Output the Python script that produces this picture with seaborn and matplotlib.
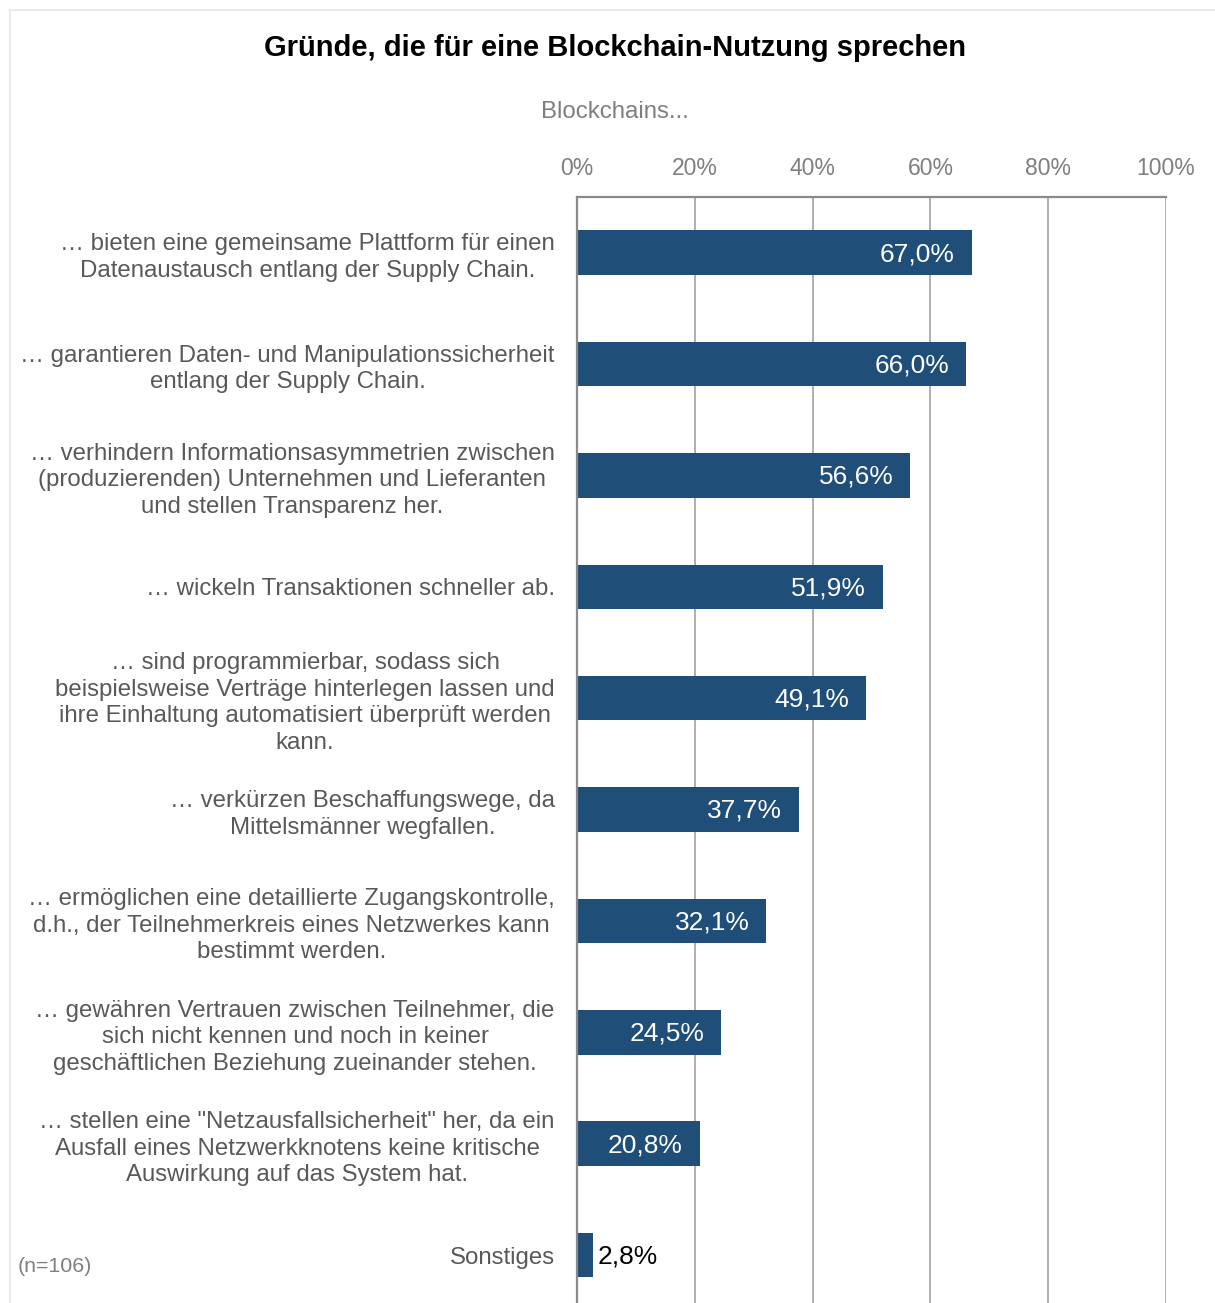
import matplotlib
matplotlib.use("Agg")
import matplotlib.pyplot as plt
import seaborn as sns
import pandas as pd
from matplotlib.lines import Line2D

categories = [
    "… bieten eine gemeinsame Plattform für einen\nDatenaustausch entlang der Supply Chain.",
    "… garantieren Daten- und Manipulationssicherheit\nentlang der Supply Chain.",
    "… verhindern Informationsasymmetrien zwischen\n(produzierenden) Unternehmen und Lieferanten\nund stellen Transparenz her.",
    "… wickeln Transaktionen schneller ab.",
    "… sind programmierbar, sodass sich\nbeispielsweise Verträge hinterlegen lassen und\nihre Einhaltung automatisiert überprüft werden\nkann.",
    "… verkürzen Beschaffungswege, da\nMittelsmänner wegfallen.",
    "… ermöglichen eine detaillierte Zugangskontrolle,\nd.h., der Teilnehmerkreis eines Netzwerkes kann\nbestimmt werden.",
    "… gewähren Vertrauen zwischen Teilnehmer, die\nsich nicht kennen und noch in keiner\ngeschäftlichen Beziehung zueinander stehen.",
    "… stellen eine \"Netzausfallsicherheit\" her, da ein\nAusfall eines Netzwerkknotens keine kritische\nAuswirkung auf das System hat.",
    "Sonstiges",
]
values = [67.0, 66.0, 56.6, 51.9, 49.1, 37.7, 32.1, 24.5, 20.8, 2.8]
xticks = [0, 20, 40, 60, 80, 100]
xtick_labels = ["0%", "20%", "40%", "60%", "80%", "100%"]

title = "Gründe, die für eine Blockchain-Nutzung sprechen"
subtitle = "Blockchains..."
note = "(n=106)"

df = pd.DataFrame({"cat": categories, "val": values})

sns.set_theme(style="white")
plt.rcParams["font.family"] = ["Liberation Sans", "DejaVu Sans"]

W, H = 1215, 1303
fig = plt.figure(figsize=(W / 100, H / 100), dpi=100)
ax = fig.add_axes([577 / W, 0, (1166 - 577) / W, 1 - 197 / H])

bar_color = "#1F4E79"
sns.barplot(data=df, x="val", y="cat", orient="h", color=bar_color,
            width=0.4, saturation=1, ax=ax, edgecolor="none")

ax.set_xlim(0, 100)
ax.set_ylim(9.43, -0.5)
ax.set_xticks(xticks)
ax.set_xticklabels(xtick_labels)
ax.xaxis.tick_top()
ax.tick_params(axis="x", length=0, pad=12, labelsize=16.5, colors="#7f7f7f")
ax.tick_params(axis="y", length=0, pad=16, labelsize=17.3, colors="#595959")
ax.set_xlabel("")
ax.set_ylabel("")
for lbl in ax.get_yticklabels():
    lbl.set_multialignment("center")
    lbl.set_linespacing(1.27)

ax.grid(False)
for x in xticks[1:]:
    ax.axvline(x, color="#9a9a9a", lw=1.1, zorder=0)
for s in ["bottom", "right"]:
    ax.spines[s].set_visible(False)
ax.spines["left"].set_color("#8a8a8a")
ax.spines["left"].set_linewidth(1.6)
ax.spines["top"].set_color("#8a8a8a")
ax.spines["top"].set_linewidth(1.6)

for i, v in enumerate(values):
    lab = f"{v:.1f}".replace(".", ",") + "%"
    if v > 10:
        ax.annotate(lab, xy=(v, i), xytext=(-12, -1), textcoords="offset points",
                    ha="right", va="center", color="white", fontsize=19)
    else:
        ax.annotate(lab, xy=(v, i), xytext=(3, -1), textcoords="offset points",
                    ha="left", va="center", color="black", fontsize=19)

fig.text(615 / W, 1 - 112 / H, subtitle, ha="center", va="center",
         fontsize=17.3, color="#7f7f7f")
fig.text(615 / W, 1 - 48 / H, title, ha="center", va="center",
         fontsize=21, fontweight="bold", color="black")
fig.text(18 / W, 1 - 1266 / H, note, ha="left", va="center",
         fontsize=15.4, color="#7f7f7f")

# outer light frame
fig.add_artist(Line2D([10 / W, 10 / W], [0, 1 - 10 / H], transform=fig.transFigure,
                      color="#e6e6e6", lw=1.2))
fig.add_artist(Line2D([10 / W, 1], [1 - 10 / H, 1 - 10 / H], transform=fig.transFigure,
                      color="#e6e6e6", lw=1.2))

fig.savefig("out.png", dpi=100)
